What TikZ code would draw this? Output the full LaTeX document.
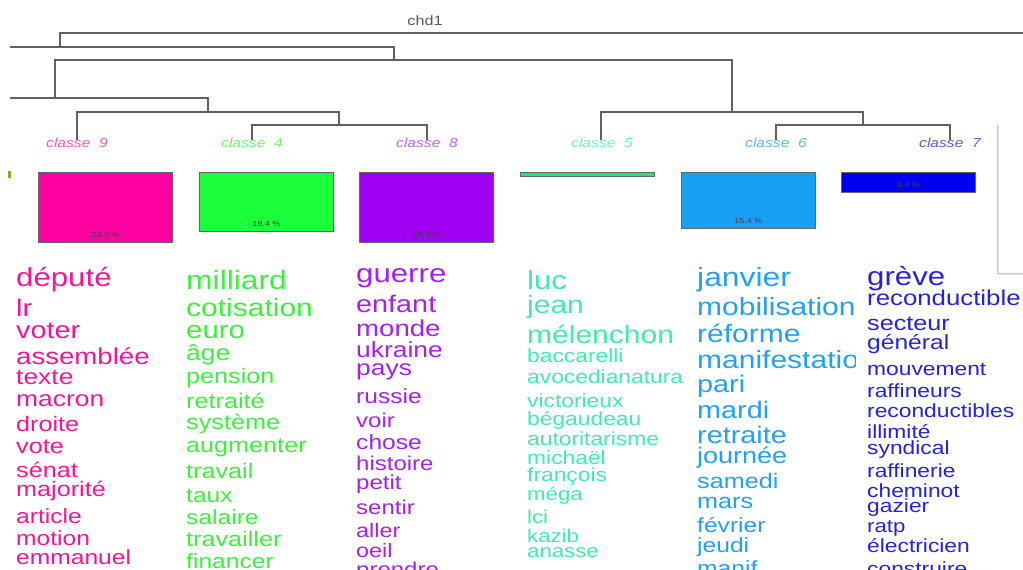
\documentclass[tikz,border=0pt]{standalone}
\usepackage{fontspec}
\setmainfont{Liberation Sans}
\newfontfamily\wordfont[FakeStretch=1.2]{Liberation Sans}
\usetikzlibrary{positioning}

\definecolor{pk}{RGB}{236,24,152}
\definecolor{gn}{RGB}{64,238,64}
\definecolor{pu}{RGB}{168,32,232}
\definecolor{tq}{RGB}{64,236,170}
\definecolor{bl}{RGB}{36,160,236}
\definecolor{db}{RGB}{36,36,212}
\definecolor{pkb}{RGB}{255,0,160}
\definecolor{gnb}{RGB}{26,255,58}
\definecolor{pub}{RGB}{160,0,242}
\definecolor{tqb}{RGB}{40,222,130}
\definecolor{blb}{RGB}{24,160,245}
\definecolor{dbb}{RGB}{0,0,240}

\begin{document}
\begin{tikzpicture}[x=1pt,y=-1pt,
        tree/.style={draw=black!62,line width=1.2pt},
        classe/.style={inner sep=0pt,font=\wordfont\itshape\fontsize{13}{13}\selectfont},
        bar/.style={draw=black!60,line width=0.8pt,anchor=north west,minimum width=134pt,inner sep=0pt},
        pct/.style={inner sep=0pt,text=black!75,font=\wordfont\fontsize{7.5}{7.5}\selectfont},
        word/.style={anchor=base west,inner sep=0pt}]
   \useasboundingbox (0,0) rectangle (1023,570);
   \clip (0,0) rectangle (1023,570);
   \node (chd) [text=black!65,font=\wordfont\fontsize{13.5}{13.5}\selectfont] at (425,21) {chd1};
   % class labels
   \node (l9) [classe,text=pk!70!white] at (77,143) {classe~~9};
   \node (l4) [classe,text=gn!75!white] at (252,143) {classe~~4};
   \node (l8) [classe,text=pu!70!white] at (427,143) {classe~~8};
   \node (l5) [classe,text=tq!75!white] at (602,143) {classe~~5};
   \node (l6) [classe,text=bl!75!white] at (776,143) {classe~~6};
   \node (l7) [classe,text=db!75!white] at (950,143) {classe~~7};
   % tree
   \coordinate (t9) at (77,140);  \coordinate (t4) at (252,140);
   \coordinate (t8) at (427,140); \coordinate (t5) at (601,140);
   \coordinate (t6) at (776,140); \coordinate (t7) at (950,140);
   \coordinate (j48) at (339,125); \coordinate (j948) at (208,112);
   \coordinate (j67) at (863,125); \coordinate (j567) at (732,112);
   \coordinate (u1) at (55,98);  \coordinate (u2) at (394,60);
   \coordinate (u3) at (60,47);  \coordinate (s1) at (10,98);
   \coordinate (s2) at (10,47);  \coordinate (s3) at (1023,33);
   \draw[tree] (t4) |- (j48) -| (t8);
   \draw[tree] (t9) |- (j948) -| (j48);
   \draw[tree] (t6) |- (j67) -| (t7);
   \draw[tree] (t5) |- (j567) -| (j67);
   \draw[tree] (j948) |- (s1);
   \draw[tree] (u1) |- (u2) -| (j567);
   \draw[tree] (u2) |- (u3) -- (s2);
   \draw[tree] (u3) |- (s3);
   % bars
   \fill[olive!80] (8,171) rectangle (10.5,178);
   \node (b9) [bar,fill=pkb,minimum height=70pt] at (38,172) {};
   \node (b4) [bar,fill=gnb,minimum height=59pt] at (199,172) {};
   \node (b8) [bar,fill=pub,minimum height=70pt] at (359,172) {};
   \node (b5) [bar,fill=tqb,minimum height=4pt] at (520,172) {};
   \node (b6) [bar,fill=blb,minimum height=56pt] at (681,172) {};
   \node (b7) [bar,fill=dbb,minimum height=20pt] at (841,172) {};
   \node (p9) [pct,above=5.5pt of b9.south] {23.3 \%};
   \node (p4) [pct,above=5.5pt of b4.south] {19.4 \%};
   \node (p8) [pct,above=5.5pt of b8.south] {23.3 \%};
   \node (p6) [pct,above=5.5pt of b6.south] {15.4 \%};
   \node (p7) [pct,above=5.5pt of b7.south] {6.4 \%};
   % words
   \foreach \w/\y/\s [count=\i] in {député/286/26,lr/316/24,voter/338/24,assemblée/364/23,
        texte/384/22,macron/406/22,droite/431/21,vote/453/21,sénat/477/21,majorité/496/21,
        article/523/20.5,motion/545/20.5,emmanuel/564/20.5}
      \node (w9-\i) [word,text=pk,font=\wordfont\fontsize{\s}{\s}\selectfont] at (16,\y) {\w};
   \foreach \w/\y/\s [count=\i] in {milliard/289/26.5,cotisation/316/25,euro/338/24.5,âge/360/22,
        pension/383/21,retraité/408/21,système/429/21,augmenter/452/21,travail/478/21,
        taux/502/20.5,salaire/524/20.5,travailler/546/21,financer/568/20.5}
      \node (w4-\i) [word,text=gn,font=\wordfont\fontsize{\s}{\s}\selectfont] at (186,\y) {\w};
   \foreach \w/\y/\s [count=\i] in {guerre/282/26,enfant/312/24,monde/336/23,ukraine/357/22,
        pays/375/22,russie/403/20.5,voir/427/20,chose/449/20.5,histoire/470/20,petit/489/20,
        sentir/514/20,aller/537/19.5,oeil/557/19.5,prendre/576/20}
      \node (w8-\i) [word,text=pu,font=\wordfont\fontsize{\s}{\s}\selectfont] at (356,\y) {\w};
   \foreach \w/\y/\s [count=\i] in {luc/289/26,jean/313/25,mélenchon/343/25,baccarelli/362/19,
        avocedianatura/383/19,victorieux/407/19,bégaudeau/425/19,autoritarisme/445/19,
        michaël/464/19,françois/481/19,méga/500/18.5,lci/523/18.5,kazib/542/18.5,anasse/557/18.5}
      \node (w5-\i) [word,text=tq,font=\wordfont\fontsize{\s}{\s}\selectfont] at (527,\y) {\w};
   \begin{scope}
      \clip (690,250) rectangle (855,580);
      \foreach \w/\y/\s [count=\i] in {janvier/286/26.5,mobilisation/315/25,réforme/342/25,
           manifestation/368/25,pari/392/24,mardi/418/24,retraite/443/24,journée/463/22.5,
           samedi/488/21,mars/508/21,février/532/20.5,jeudi/552/20.5,manif/575/20.5}
         \node (w6-\i) [word,text=bl,font=\wordfont\fontsize{\s}{\s}\selectfont] at (697,\y) {\w};
   \end{scope}
   \foreach \w/\y/\s [count=\i] in {grève/285/26,reconductible/305/21.5,secteur/330/21,
        général/349/20.5,mouvement/375/19,raffineurs/397/19,reconductibles/417/19,
        illimité/438/19,syndical/454/19,raffinerie/477/19,cheminot/497/19,gazier/512/19,
        ratp/532/18.5,électricien/552/19,construire/575/19}
      \node (w7-\i) [word,text=db,font=\wordfont\fontsize{\s}{\s}\selectfont] at (867,\y) {\w};
   % frame at right
   \draw[black!12,line width=1.6pt] (998.5,125) -- (998.5,274.5) -- (1023,274.5);
   \draw[black!22,line width=0.6pt] (997,125) -- (997,273) -- (1023,273);
\end{tikzpicture}
\end{document}
